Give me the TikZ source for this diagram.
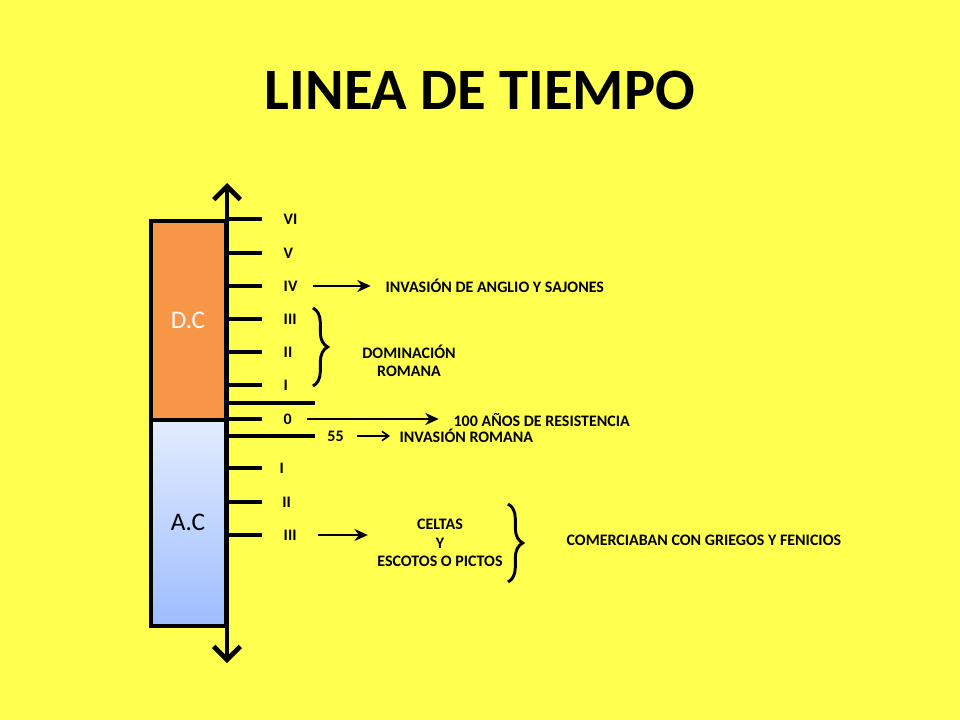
\documentclass[tikz,border=0pt]{standalone}
\usepackage{fontspec}
\setmainfont{Carlito}
\usetikzlibrary{arrows.meta,decorations.pathreplacing}
\definecolor{bgyellow}{HTML}{FFFF4F}
\definecolor{dcorange}{HTML}{F79646}
\definecolor{actop}{HTML}{E3ECFF}
\definecolor{acbot}{HTML}{9DBDFF}
\begin{document}
\begin{tikzpicture}[
    x=0.75pt, y=-0.75pt,
    lbl/.style={font=\bfseries\fontsize{12}{14}\selectfont, inner sep=1pt},
    tick/.style={line width=2.6pt},
    arrow/.style={-{Stealth[length=10pt,width=9pt]}, line width=2.2pt},
    thinarrow/.style={-{Straight Barb[length=5pt,width=7pt]}, line width=1.2pt},
    brace/.style={decorate, decoration={brace, amplitude=11pt}, line width=2.2pt}
]
\useasboundingbox[fill=bgyellow] (0,0) rectangle (960,720);

\node[font=\bfseries\fontsize{44}{48}\selectfont] (title) at (480,90) {LINEA DE TIEMPO};

% periods
\draw[line width=2.5pt, fill=dcorange] (151,221) rectangle (226,420);
\shade[top color=actop, bottom color=acbot] (151,420) rectangle (226,626);
\draw[line width=2.5pt] (151,420) rectangle (226,626);
\node[text=white, font=\fontsize{19}{22}\selectfont] (dc) at (188,320) {D.C};
\node[font=\fontsize{19}{22}\selectfont] (ac) at (188,522) {A.C};

% axis
\draw[{Straight Barb[length=10pt,width=20pt]}-{Straight Barb[length=10pt,width=20pt]}, line width=3.5pt] (227,183) -- (227,663);

% ticks
\foreach \y/\t in {219/VI,253/V,286/IV,319/III,352/II,385/I,419/0}
  \draw[tick] (227,\y) -- (262,\y) node[lbl, right=14pt] (d\t) {\t};
\foreach \y/\t/\dx in {468/I/11pt,502/II/13pt,535/III/14pt}
  \draw[tick] (227,\y) -- (262,\y) node[lbl, right=\dx] (a\t) {\t};
\draw[tick] (227,403) -- (315,403);
\draw[tick] (227,436) -- (315,436) node[lbl, right=7pt] (n55) {55};

% events
\node[lbl, anchor=west] (anglos) at (384,286) {INVASIÓN DE ANGLIO Y SAJONES};
\draw[arrow, shorten <=9pt, shorten >=10pt] (dIV.east) -- (anglos.west);

\draw[brace] (313,308) -- (313,386);
\node[lbl, align=center] (roma) at (409,361) {DOMINACIÓN\\ROMANA};

\node[lbl, anchor=west] (resist) at (452,420) {100 AÑOS DE RESISTENCIA};
\draw[arrow, shorten <=9pt, shorten >=10pt] (d0.east) -- (resist.west |- d0.east);

\node[lbl, anchor=west] (invrom) at (398,436) {INVASIÓN ROMANA};
\draw[thinarrow, shorten <=8pt, shorten >=6pt] (n55.east) -- (invrom.west);

\node[lbl, align=center] (celtas) at (440,543) {CELTAS\\Y\\ESCOTOS O PICTOS};
\draw[arrow, shorten <=14pt, shorten >=6pt] (aIII.east) -- (celtas.west |- aIII.east);

\draw[brace] (508,504) -- (508,582);
\node[lbl, anchor=west] (comercio) at (565,540) {COMERCIABAN CON GRIEGOS Y FENICIOS};
\end{tikzpicture}
\end{document}
